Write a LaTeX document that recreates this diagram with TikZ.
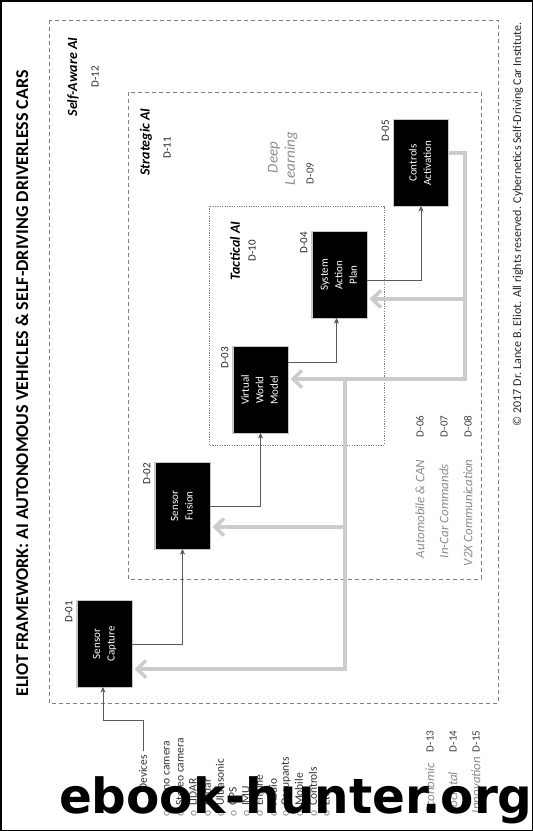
\documentclass[tikz,border=0pt]{standalone}
\usepackage{fontspec}
\setmainfont{Carlito}
\newfontfamily\wmfont{DejaVu Sans}
\usetikzlibrary{arrows.meta}
\newcommand{\vtext}[1]{\rotatebox{90}{\begin{tabular}{@{}c@{}}#1\end{tabular}}}
\begin{document}
\begin{tikzpicture}[x=1pt,y=-1pt,
  every node/.style={inner sep=0pt, outer sep=0pt},
  blk/.style={fill=black, draw=none, minimum width=54pt, minimum height=86pt,
    text=white, font=\fontsize{11}{14.5}\selectfont,
    preaction={draw=black!22, line width=2.5pt}},
  dlab/.style={rotate=90, font=\fontsize{11}{13}\selectfont, text=black!85},
  layname/.style={rotate=90, font=\fontsize{14}{16}\selectfont\bfseries\itshape},
  grayit/.style={rotate=90, anchor=west, font=\fontsize{13}{15}\selectfont\itshape, text=black!45},
  dcode/.style={rotate=90, anchor=west, font=\fontsize{11}{13}\selectfont, text=black!75},
  item/.style={rotate=90, anchor=west, font=\fontsize{11.5}{13}\selectfont, text=black!80},
  layer/.style={draw=black!50, line width=0.8pt, dash pattern=on 4pt off 3pt},
  tact/.style={draw=black!50, line width=0.8pt, dash pattern=on 1.2pt off 1.2pt},
  flow/.style={draw=black!65, line width=0.9pt, -{Stealth[length=5.5pt,width=5pt,inset=1.5pt]}},
  fbline/.style={draw=black!20, line width=3.5pt},
  fbarrow/.style={fbline, -{Straight Barb[length=9pt,width=17pt,line width=3.5pt]}, shorten >=3pt}
]
\useasboundingbox (0,0) rectangle (533,831);
\fill[white] (0,0) rectangle (533,831);
\draw[line width=1.5pt] (0.75,0.75) rectangle (532.25,830.25);

% title and copyright
\node[rotate=90, font=\fontsize{18}{20}\selectfont\bfseries] (title) at (22,383.5)
  {ELIOT FRAMEWORK: AI AUTONOMOUS VEHICLES \& SELF-DRIVING DRIVERLESS CARS};
\node[rotate=90, anchor=west, font=\fontsize{12}{14}\selectfont, text=black!85] (copy) at (518,426)
  {\textcopyright{} 2017 Dr. Lance B. Eliot. All rights reserved. Cybernetics Self-Driving Car Institute.};

% layers
\draw[layer] (49,20) rectangle (498,703);
\draw[layer] (128,92) rectangle (481,579);
\draw[tact] (209,206) rectangle (384,445);

\node[layname] (saw) at (73,77) {Self-Aware AI};
\node[dlab] (d12) at (95,77) {D-12};
\node[layname] (str) at (146,142) {Strategic AI};
\node[dlab] (d11) at (167,148) {D-11};
\node[layname] (tac) at (235,251) {Tactical AI};
\node[dlab] (d10) at (252,251) {D-10};

\node[grayit, font=\fontsize{15}{17}\selectfont\itshape] (deep) at (274,173) {Deep};
\node[grayit, font=\fontsize{15}{17}\selectfont\itshape] (learn) at (291,185) {Learning};
\node[dcode] (d09) at (310,184) {D-09};

% boxes
\node[blk] (d01) at (104.5,644) {\vtext{Sensor\\Capture}};
\node[blk] (d02) at (182.5,506) {\vtext{Sensor\\Fusion}};
\node[blk] (d03) at (260.5,390) {\vtext{Virtual\\World\\Model}};
\node[blk] (d04) at (339.5,275) {\vtext{System\\Action\\Plan}};
\node[blk] (d05) at (421,163) {\vtext{Controls\\Activation}};

\node[dlab, anchor=south east] (l01) at ([xshift=-5pt]d01.north west) {D-01};
\node[dlab, anchor=south east] (l02) at ([xshift=-5pt]d02.north west) {D-02};
\node[dlab, anchor=south east] (l03) at ([xshift=-5pt]d03.north west) {D-03};
\node[dlab, anchor=south east] (l04) at ([xshift=-5pt]d04.north west) {D-04};
\node[dlab, anchor=south east] (l05) at ([xshift=-5pt]d05.north west) {D-05};

% feedback (gray)
\coordinate (j1) at (465,153);
\coordinate (j2) at (465,299);
\coordinate (j3) at (465,379);
\coordinate (j4) at (345,379);
\coordinate (j5) at (345,527);
\coordinate (j6) at (345,669);
\draw[fbarrow] (d05.east |- j1) -- (j1) -- (j3) -- (d03.east |- j3);
\draw[fbarrow] (j2) -- (d04.east |- j2);
\draw[fbarrow] (j4) -- (j6) -- (d01.east |- j6);
\draw[fbarrow] (j5) -- (d02.east |- j5);

% forward flow
\draw[flow] (d01.east) -| (d02.south);
\draw[flow] (d02.east) -| (d03.south);
\draw[flow] ([yshift=28pt]d03.east) -| ([xshift=-3pt]d04.south);
\draw[flow] ([yshift=-5pt]d04.east) -| (d05.south);

% devices
\coordinate (dev) at (143,751);
\coordinate (devb) at (143,720);
\draw[flow] (dev) -- (devb) -| ([xshift=-1.5pt]d01.south);
\node[item, anchor=east] (devh) at (143,755) {Devices};
\foreach \x/\t [count=\i] in {166/Mono camera,180/Stereo camera,193/LIDAR,207/Radar,220/Ultrasonic,233/GPS,246/IMU,260/Engine,273/Audio,286/Occupants,299/Mobile,313/Controls,326/Etc.}
  \node[item] (it\i) at (\x,816) {{\color{black!45}o}\hspace{4pt}\t};

% automobile group
\node[grayit] (auto) at (420,558) {Automobile \& CAN};
\node[grayit] (incar) at (444,558) {In-Car Commands};
\node[grayit] (v2x) at (468,566) {V2X Communication};
\node[dcode] (d06) at (420,437) {D-06};
\node[dcode] (d07) at (444,437) {D-07};
\node[dcode] (d08) at (468,437) {D-08};

% outer group
\node[grayit] (econ) at (430,813) {Economic};
\node[grayit] (soc) at (453,813) {Societal};
\node[grayit] (inno) at (476,813) {Innovation};
\node[dcode] (d13) at (430,752) {D-13};
\node[dcode] (d14) at (453,752) {D-14};
\node[dcode] (d15) at (476,752) {D-15};

% watermark
\node[anchor=base west, font=\wmfont\bfseries\fontsize{48.5}{48.5}\selectfont] (wm) at (59,813) {ebook-hunter.org};
\end{tikzpicture}
\end{document}
